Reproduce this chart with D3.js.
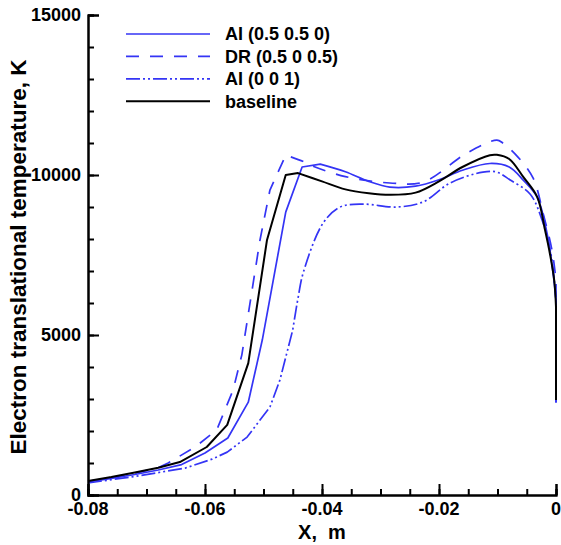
<!DOCTYPE html>
<html>
<head>
<meta charset="utf-8">
<script src="https://cdn.jsdelivr.net/npm/d3@7"></script>
<style>
  body { margin: 0; background: #fff; }
  text { font-family: "Liberation Sans", Arial, sans-serif; font-weight: bold; fill: #000; }
</style>
</head>
<body>
<svg id="chart"></svg>
<script>
// x positions (m) and electron temperature (K) for each case
const aiHalfX = [-0.08, -0.076, -0.072, -0.068, -0.064, -0.060, -0.0561, -0.0526, -0.0502, -0.0462, -0.0434, -0.0403, -0.036, -0.032, -0.0284, -0.024, -0.020, -0.016, -0.0113, -0.008, -0.0056, -0.0032, -0.0015, -0.0005, 0, 0];
const aiHalfT = [410, 520, 640, 780, 950, 1310, 1780, 2900, 4850, 8840, 10250, 10340, 10100, 9800, 9620, 9650, 9850, 10150, 10360, 10250, 9840, 9300, 8150, 6940, 6090, 2880];

const drX = [-0.08, -0.076, -0.072, -0.068, -0.0663, -0.0617, -0.058, -0.0552, -0.0537, -0.0506, -0.0489, -0.0462, -0.0429, -0.042, -0.036, -0.0284, -0.0227, -0.0152, -0.0101, -0.0091, -0.0065, -0.0039, -0.0022, -0.0007, 0, 0];
const drT = [430, 540, 680, 850, 1000, 1500, 2030, 3280, 4380, 7970, 9530, 10620, 10400, 10310, 9950, 9750, 9780, 10690, 11090, 11000, 10560, 9900, 8800, 7660, 6720, 2900];

const ai001X = [-0.08, -0.076, -0.072, -0.068, -0.0634, -0.0588, -0.0562, -0.0528, -0.0489, -0.0472, -0.045, -0.0441, -0.0432, -0.0398, -0.0369, -0.033, -0.0272, -0.0227, -0.0181, -0.0125, -0.0101, -0.0079, -0.0044, -0.0024, -0.001, -0.0003, 0, 0];
const ai001T = [375, 480, 580, 700, 840, 1120, 1340, 1810, 2750, 3590, 5160, 6150, 6950, 8500, 9000, 9090, 9000, 9160, 9750, 10090, 10090, 9850, 9400, 8600, 7660, 6720, 6090, 2900];

const baseX = [-0.08, -0.076, -0.072, -0.068, -0.0643, -0.0597, -0.0562, -0.0526, -0.0494, -0.0462, -0.0441, -0.040, -0.036, -0.032, -0.0284, -0.024, -0.020, -0.016, -0.0113, -0.0101, -0.008, -0.0056, -0.0032, -0.0019, -0.0010, -0.0003, 0, 0];
const baseT = [440, 560, 700, 850, 1030, 1500, 2190, 4120, 7970, 10000, 10060, 9800, 9550, 9430, 9380, 9450, 9800, 10250, 10620, 10630, 10500, 9940, 9310, 8300, 7500, 6700, 5880, 2970];

const seriesNames = ["AI (0.5 0.5 0)", "DR (0.5 0 0.5)", "AI (0 0 1)", "baseline"];
const xTicks = [-0.08, -0.06, -0.04, -0.02, 0];
const yTicks = [0, 5000, 10000, 15000];

const width = 561, height = 545;
const margin = {left: 88, right: 5, top: 15, bottom: 50};

const svg = d3.select("#chart").attr("width", width).attr("height", height);

const x = d3.scaleLinear().domain([-0.08, 0]).range([margin.left, width - margin.right]);
const y = d3.scaleLinear().domain([0, 15000]).range([height - margin.bottom, margin.top]);

const blue = "#3434f5";
// k = last point of the straight-segment rise; smooth curve after that
const series = [
  {name: seriesNames[0], xs: aiHalfX, ts: aiHalfT, k: 11, color: blue, dash: null, w: 1.7},
  {name: seriesNames[1], xs: drX, ts: drT, k: 11, color: blue, dash: "13,11", w: 1.7},
  {name: seriesNames[2], xs: ai001X, ts: ai001T, k: 10, color: blue, dash: "14,3,2,3,2,3", w: 1.7},
  {name: seriesNames[3], xs: baseX, ts: baseT, k: 10, color: "#000", dash: null, w: 2}
];

const straight = d3.line().x(d => x(d[0])).y(d => y(d[1]));
const smooth = d3.line().x(d => x(d[0])).y(d => y(d[1])).curve(d3.curveCatmullRom.alpha(0.5));

function seriesPath(s) {
  const pts = d3.zip(s.xs, s.ts);
  const n = pts.length;
  const a = straight(pts.slice(0, s.k + 1));
  const b = smooth(pts.slice(s.k, n - 1)).replace(/^M[^A-Za-z]*/, "");
  const end = pts[n - 1];
  return a + b + "L" + x(end[0]) + "," + y(end[1]);
}

// curves (baseline drawn last, on top)
svg.selectAll("path.series")
  .data(series)
  .enter().append("path")
    .attr("class", "series")
    .attr("d", seriesPath)
    .attr("fill", "none")
    .attr("stroke", s => s.color)
    .attr("stroke-width", s => s.w)
    .attr("stroke-dasharray", s => s.dash)
    .attr("stroke-linejoin", "round");

// axes, ticks inward
const xAxis = svg.append("g").attr("transform", `translate(0,${y(0)})`);
xAxis.call(d3.axisTop(x).tickValues(d3.range(-0.08, 0.0001, 0.005)).tickSize(6).tickFormat(""));
xAxis.call(g => g.append("g").call(d3.axisTop(x).tickValues(xTicks).tickSize(11).tickFormat("")));
xAxis.selectAll(".domain").attr("stroke-width", 2);
xAxis.selectAll("line").attr("stroke-width", 1.2);
xAxis.selectAll("g g line").attr("stroke-width", 2);
xAxis.selectAll("text.lbl")
  .data(xTicks).enter().append("text")
    .attr("class", "lbl")
    .attr("x", d => x(d)).attr("y", 20)
    .attr("text-anchor", "middle")
    .style("font-size", "18px")
    .text(d => d === 0 ? "0" : d3.format(".2f")(d).replace("−", "-"));

const yAxis = svg.append("g").attr("transform", `translate(${x(-0.08)},0)`);
yAxis.call(d3.axisRight(y).tickValues(d3.range(0, 15001, 1000)).tickSize(6).tickFormat(""));
yAxis.call(g => g.append("g").call(d3.axisRight(y).tickValues(yTicks).tickSize(11).tickFormat("")));
yAxis.selectAll(".domain").attr("stroke-width", 2);
yAxis.selectAll("line").attr("stroke-width", 1.2);
yAxis.selectAll("g g line").attr("stroke-width", 2);
yAxis.selectAll("text.lbl")
  .data(yTicks).enter().append("text")
    .attr("class", "lbl")
    .attr("x", -7).attr("y", d => y(d)).attr("dy", "0.36em")
    .attr("text-anchor", "end")
    .style("font-size", "18px")
    .text(d => d);

// titles
svg.append("text")
  .attr("x", 322).attr("y", 539)
  .attr("text-anchor", "middle")
  .style("font-size", "20px")
  .style("white-space", "pre")
  .text("X,  m");

svg.append("text")
  .attr("transform", "translate(26,257) rotate(-90)")
  .attr("text-anchor", "middle")
  .style("font-size", "22.5px")
  .text("Electron translational temperature, K");

// legend
const legend = svg.selectAll("g.legend")
  .data(series)
  .enter().append("g")
    .attr("class", "legend")
    .attr("transform", (d, i) => `translate(126,${34 + i * 22.4})`);

legend.append("line")
  .attr("x1", 0).attr("x2", 84)
  .attr("stroke", d => d.color)
  .attr("stroke-width", d => d.w)
  .attr("stroke-dasharray", d => d.dash);

legend.append("text")
  .attr("x", 99).attr("dy", "0.36em")
  .style("font-size", "18px")
  .text(d => d.name);
</script>
</body>
</html>
